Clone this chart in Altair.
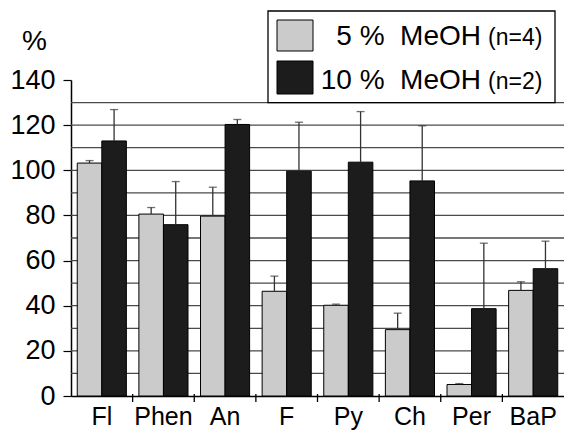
import altair as alt
import pandas as pd

# ---- data ----
categories = ["Fl", "Phen", "An", "F", "Py", "Ch", "Per", "BaP"]
series = ["5 % MeOH", "10 % MeOH"]
notes = ["(n=4)", "(n=2)"]
mean_5 = [103.2, 80.6, 79.7, 46.4, 40.2, 29.4, 5.1, 46.8]
top_5 = [104.3, 83.5, 92.5, 53.1, 40.7, 36.7, 5.5, 50.6]
mean_10 = [113.0, 75.9, 120.3, 99.6, 103.6, 95.3, 38.7, 56.4]
top_10 = [126.9, 95.0, 122.5, 121.3, 126.0, 119.7, 67.7, 68.6]
y_ticks = list(range(0, 150, 10))
grid_values = list(range(10, 140, 10))

LIGHT = "#cbcbcb"
DARK = "#1c1c1c"
FONT = "Liberation Sans"
W, H = 493, 316

rows = []
for i, c in enumerate(categories):
    rows.append({"cat": c, "series": series[0], "value": mean_5[i], "top": top_5[i]})
    rows.append({"cat": c, "series": series[1], "value": mean_10[i], "top": top_10[i]})
df = pd.DataFrame(rows)

x_scale = alt.Scale(domain=categories, paddingInner=0, paddingOuter=0)
off_scale = alt.Scale(domain=series, paddingInner=0, paddingOuter=0.255)
y_scale = alt.Scale(domain=[0, 140], nice=False, zero=True)

x_enc = alt.X(
    "cat:N",
    scale=x_scale,
    sort=categories,
    axis=alt.Axis(
        title=None,
        ticks=False,
        labelAngle=0,
        labelFontSize=25,
        labelFont=FONT,
        labelColor="black",
        labelPadding=8,
        domainColor="black",
        domainWidth=1.5,
        grid=False,
    ),
)
xo_enc = alt.XOffset("series:N", scale=off_scale, sort=series)
y_enc = alt.Y(
    "value:Q",
    scale=y_scale,
    axis=alt.Axis(
        title=None,
        values=y_ticks,
        labelExpr="datum.value % 20 == 0 ? datum.label : ''",
        grid=False,
        tickSize=8,
        tickColor="black",
        tickWidth=1.2,
        domainColor="black",
        domainWidth=1.5,
        labelFontSize=27,
        labelFont=FONT,
        labelColor="black",
        labelPadding=8,
        labelOverlap=False,
    ),
)

base = alt.Chart(df)

grid = (
    alt.Chart(pd.DataFrame({"g": grid_values}))
    .mark_rule(color="#4a4a4a", strokeWidth=1.3)
    .encode(y=alt.Y("g:Q", scale=y_scale), x=alt.value(0), x2=alt.value(W))
)

bars = base.mark_bar(stroke="black", strokeWidth=1).encode(
    x=x_enc,
    xOffset=xo_enc,
    y=y_enc,
    color=alt.Color("series:N", scale=alt.Scale(domain=series, range=[LIGHT, DARK]), legend=None),
)

err_line = base.mark_rule(color="#333333", strokeWidth=1.3).encode(
    x=alt.X("cat:N", scale=x_scale, sort=categories),
    xOffset=xo_enc,
    y=alt.Y("value:Q", scale=y_scale),
    y2="top:Q",
)
err_cap = base.mark_tick(color="#333333", thickness=1.3, size=8).encode(
    x=alt.X("cat:N", scale=x_scale, sort=categories),
    xOffset=xo_enc,
    y=alt.Y("top:Q", scale=y_scale),
)

cat_ticks = (
    alt.Chart(pd.DataFrame({"cat": categories}))
    .transform_filter(alt.datum.cat != categories[0])
    .mark_rule(color="black", strokeWidth=1.3)
    .encode(
        x=alt.X("cat:N", scale=x_scale, sort=categories, bandPosition=0),
        y=alt.value(H - 2),
        y2=alt.value(H + 6),
    )
)

# ---- legend drawn by hand ----
one = pd.DataFrame({"k": [0]})
leg_box = alt.Chart(one).mark_rect(fill="white", stroke="black", strokeWidth=1.3).encode(
    x=alt.value(197), x2=alt.value(484), y=alt.value(-69), y2=alt.value(22.6)
)
sw1 = alt.Chart(one).mark_rect(fill=LIGHT, stroke="black", strokeWidth=1).encode(
    x=alt.value(206), x2=alt.value(242), y=alt.value(-60), y2=alt.value(-29)
)
sw2 = alt.Chart(one).mark_rect(fill=DARK, stroke="black", strokeWidth=1).encode(
    x=alt.value(206), x2=alt.value(242), y=alt.value(-19), y2=alt.value(14)
)


def txt(s, x, y, size, align):
    return (
        alt.Chart(pd.DataFrame({"t": [s]}))
        .mark_text(align=align, baseline="alphabetic", fontSize=size, font=FONT, color="black")
        .encode(text="t:N", x=alt.value(x), y=alt.value(y))
    )


NB = "\u00a0"
t1 = txt(series[0].replace(" MeOH", NB + NB + "MeOH"), 410, -35, 28, "right")
n1 = txt(notes[0], 417, -35, 23, "left")
t2 = txt(series[1].replace(" MeOH", NB + NB + "MeOH"), 410, 9, 28, "right")
n2 = txt(notes[1], 417, 9, 23, "left")
pct = txt("%", -49, -30, 28, "left")

chart = (
    alt.layer(grid, bars, err_line, err_cap, cat_ticks, leg_box, sw1, sw2, t1, n1, t2, n2, pct)
    .properties(
        width=W,
        height=H,
        autosize=alt.AutoSizeParams(type="none"),
        padding={"left": 63, "top": 72, "right": 0, "bottom": 34},
        background="white",
    )
    .configure_view(stroke=None)
)

chart.save("out.html", embed_options={"renderer": "svg", "actions": False})
